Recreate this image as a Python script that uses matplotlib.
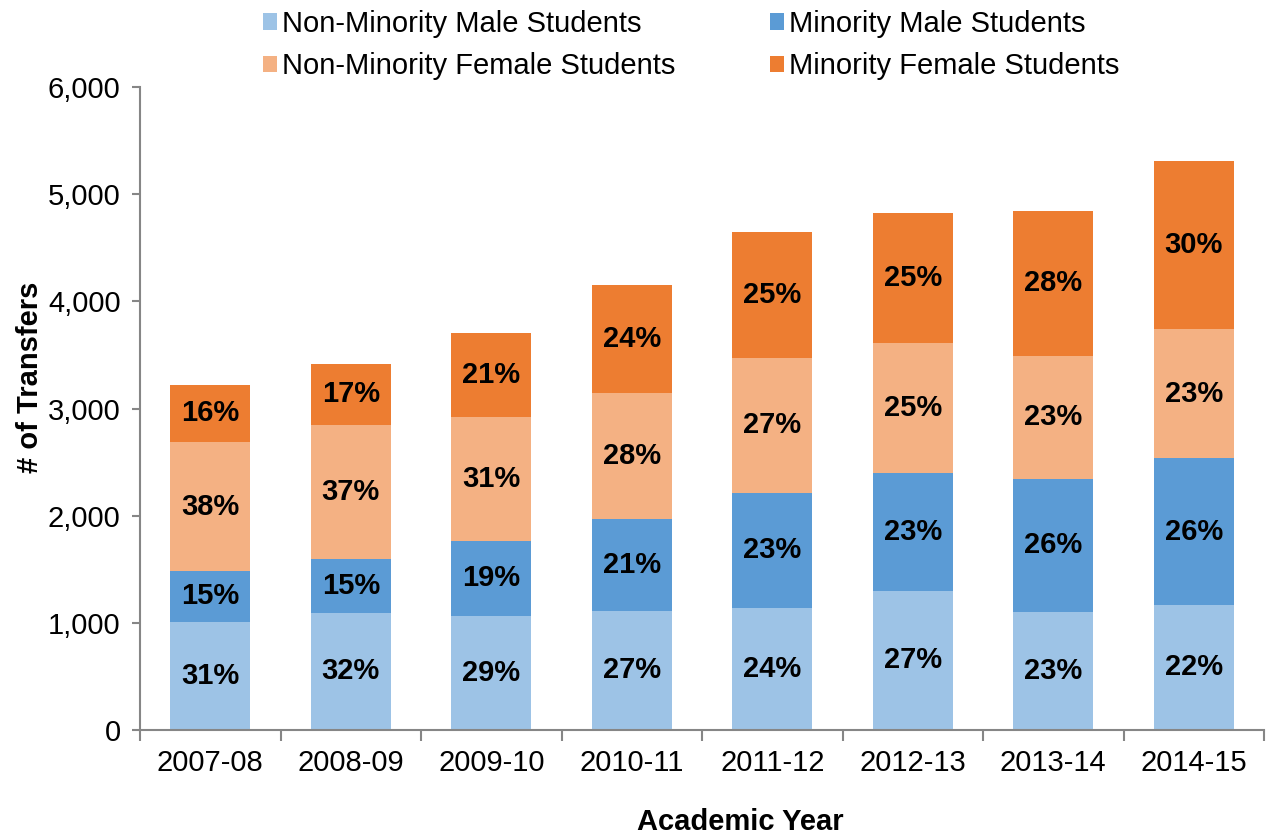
import matplotlib
matplotlib.use("Agg")
import matplotlib.pyplot as plt
import numpy as np

plt.rcParams['font.family'] = ['Liberation Sans', 'DejaVu Sans']

years = ["2007-08", "2008-09", "2009-10", "2010-11", "2011-12", "2012-13", "2013-14", "2014-15"]
nonminority_male = [1011, 1096, 1068, 1114, 1139, 1300, 1104, 1168]
minority_male = [471, 497, 693, 857, 1072, 1096, 1242, 1368]
nonminority_female = [1207, 1257, 1160, 1172, 1264, 1218, 1147, 1207]
minority_female = [532, 564, 779, 1011, 1175, 1207, 1350, 1571]

pct_nm_male = ["31%", "32%", "29%", "27%", "24%", "27%", "23%", "22%"]
pct_m_male = ["15%", "15%", "19%", "21%", "23%", "23%", "26%", "26%"]
pct_nm_female = ["38%", "37%", "31%", "28%", "27%", "25%", "23%", "23%"]
pct_m_female = ["16%", "17%", "21%", "24%", "25%", "25%", "28%", "30%"]

series = [
    ("Non-Minority Male Students", nonminority_male, pct_nm_male, "#9DC3E6"),
    ("Minority Male Students", minority_male, pct_m_male, "#5B9BD5"),
    ("Non-Minority Female Students", nonminority_female, pct_nm_female, "#F4B183"),
    ("Minority Female Students", minority_female, pct_m_female, "#ED7D31"),
]

FS = 21

fig = plt.figure(figsize=(12.66, 8.36), dpi=100)
ax = fig.add_axes([140/1266, 106/836, 1124/1266, 643/836])

x = np.arange(len(years))
bottom = np.zeros(len(years))
handles = {}
for name, vals, pcts, color in series:
    vals = np.array(vals, dtype=float)
    bars = ax.bar(x, vals, 0.57, bottom=bottom, color=color, label=name, zorder=2)
    handles[name] = bars
    for xi, b, v, p in zip(x, bottom, vals, pcts):
        ax.text(xi, b + v / 2, p, ha="center", va="center", fontsize=FS,
                fontweight="bold", color="black")
    bottom += vals

ax.set_xlim(-0.5, len(years) - 0.5)
ax.set_ylim(0, 6000)
ax.set_yticks(np.arange(0, 6001, 1000))
ax.set_yticklabels([f"{v:,}" for v in range(0, 6001, 1000)])
ax.set_xticks(x)
ax.set_xticklabels(years)
ax.set_xticks(np.arange(-0.5, len(years)), minor=True)
ax.tick_params(axis="x", which="major", length=0, labelsize=FS, pad=14)
ax.tick_params(axis="x", which="minor", length=8, color="#868686", width=1.5)
ax.tick_params(axis="y", length=6, color="#868686", width=1.5, labelsize=FS, pad=8)

for s in ["top", "right"]:
    ax.spines[s].set_visible(False)
for s in ["left", "bottom"]:
    ax.spines[s].set_color("#868686")
    ax.spines[s].set_linewidth(1.5)

fig.text(30/1266, 1 - 377/836, "# of Transfers", rotation=90, ha="center", va="center",
         fontsize=FS, fontweight="bold")
fig.text(740/1266, 1 - 822/836, "Academic Year", ha="center", va="center",
         fontsize=FS, fontweight="bold")

order = ["Non-Minority Male Students", "Non-Minority Female Students",
         "Minority Male Students", "Minority Female Students"]
leg = fig.legend([handles[n] for n in order], order, ncol=2, loc="center",
                 bbox_to_anchor=(691/1266, 1 - 45/836), frameon=False,
                 fontsize=FS, handlelength=0.5, handleheight=0.5,
                 handletextpad=0.15, columnspacing=3.25, labelspacing=0.5)

fig.savefig("out.png", dpi=100)
